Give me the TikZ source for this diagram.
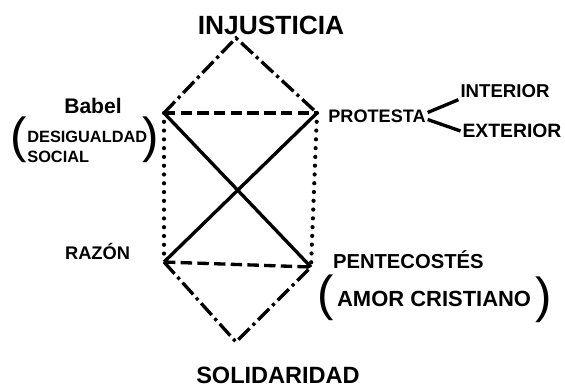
\documentclass[tikz,border=0pt]{standalone}
\usepackage{fontspec}
\setmainfont{Liberation Sans}
\usetikzlibrary{positioning}
\tikzset{
 lbl/.style={inner sep=1pt,font=\bfseries},
 rel/.style={line width=1.9pt},
 dashdot/.style={rel,dash pattern=on 9pt off 2.5pt on 1.8pt off 2.5pt},
 dashline/.style={rel,dash pattern=on 6.5pt off 3pt},
 dotline/.style={rel,line width=2.4pt,line cap=round,dash pattern=on 0pt off 5pt},
 paren/.style={inner sep=0pt,font=\fontsize{28}{28}\selectfont}
}
\newcommand{\fs}[1]{\bfseries\fontsize{#1}{#1}\selectfont}

\begin{document}
\begin{tikzpicture}[x=0.02cm,y=-0.02cm]
\useasboundingbox (0,0) rectangle (565,386);
% corners of the figure
\coordinate (inj) at (236,38);
\coordinate (bab) at (164,113);
\coordinate (pro) at (317,113);
\coordinate (raz) at (164,262);
\coordinate (pen) at (311,267);
\coordinate (sol) at (236,342);

% labels
\node[lbl,font=\fs{15}] (injust) at (271,25) {INJUSTICIA};
\node[lbl,font=\fs{13.4}] (solid) at (278,375) {SOLIDARIDAD};
\node[lbl,font=\fs{12}] (babel) at (93,106) {Babel};
\node[lbl,font=\fs{9.3},inner sep=0pt,align=left,anchor=west] (desig) at (27,147)
  {DESIGUALDAD\\[2pt]SOCIAL};
\node[paren] (lpar1) at (19,140) {(};
\node[paren] (rpar1) at (151,140) {)};
\node[lbl,font=\fs{10.3}] (protesta) at (377,116) {PROTESTA};
\node[lbl,font=\fs{10.6}] (interior) at (505,91) {INTERIOR};
\node[lbl,font=\fs{11}] (exterior) at (512,131) {EXTERIOR};
\node[lbl,font=\fs{10.4},anchor=base west] (razon) at (63,259) {RAZÓN};
\node[lbl,font=\fs{11.5},anchor=base west] (pente) at (331,268) {PENTECOSTÉS};
\node[lbl,font=\fs{12.5},anchor=base west] (amor) at (335,306) {AMOR CRISTIANO};
\node[paren] (lpar2) at (326,298) {(};
\node[paren] (rpar2) at (544,300) {)};

% relations
\draw[dashdot] (bab) -- (inj) -- (pro);
\draw[dashline] (bab) -- (pro);
\draw[rel] (bab) -- (pen);
\draw[rel] (raz) -- (pro);
\draw[dotline] (bab) -- (raz);
\draw[dotline] (pro) -- (pen);
\draw[dashline] (raz) -- (pen);
\draw[dashdot] (raz) -- (sol) -- (pen);
\draw[rel] ([yshift=2pt]protesta.east) -- (interior.south west);
\draw[rel] ([yshift=-2pt]protesta.east) -- (exterior.west);
\end{tikzpicture}
\end{document}
